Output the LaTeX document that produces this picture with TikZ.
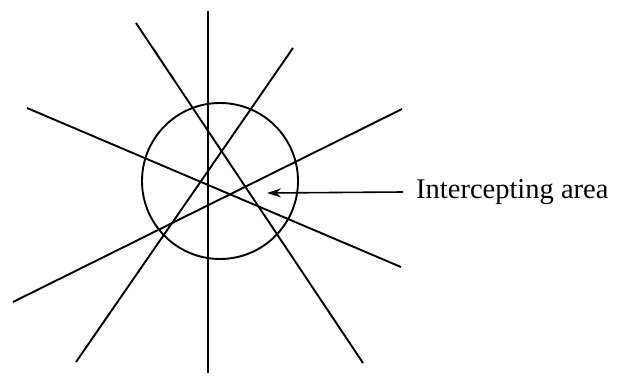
\documentclass[tikz,border=0pt]{standalone}
\usepackage{fontspec}
\setmainfont{Liberation Serif}
\usetikzlibrary{arrows.meta}
\begin{document}
\begin{tikzpicture}[x=1pt,y=-1pt,
  ray/.style={line width=1.9pt},
  pointer/.style={line width=1.6pt,-{Stealth[length=14pt,width=9pt]}},
  label/.style={font=\fontsize{28.5}{30}\selectfont,anchor=west,inner sep=0pt}]
\useasboundingbox (0,0) rectangle (617,375);
\draw[ray] (208,11) -- (208,373);
\draw[ray] (136,23) -- (363,363);
\draw[ray] (293,48) -- (76,362);
\draw[ray] (27,108) -- (401,267);
\draw[ray] (13,302) -- (402,109);
\draw[ray] (220,181) circle[radius=78];
\node[label] (lab) at (416,192) {Intercepting area};
\coordinate (tip) at (267,193);
\draw[pointer] ([xshift=-13pt]lab.west) -- (tip);
\end{tikzpicture}
\end{document}
